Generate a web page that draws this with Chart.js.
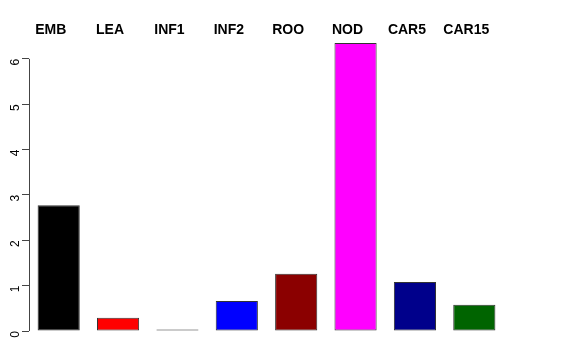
<!DOCTYPE html>
<html>
<head>
<meta charset="utf-8">
<script src="https://cdn.jsdelivr.net/npm/chart.js@4"></script>
<style>
  html, body { margin: 0; padding: 0; background: #fff; }
  #wrap { width: 576px; height: 360px; }
</style>
</head>
<body>
<div id="wrap"><canvas id="chart"></canvas></div>
<script>
const categories = ['EMB', 'LEA', 'INF1', 'INF2', 'ROO', 'NOD', 'CAR5', 'CAR15'];
const values = [2.77, 0.29, 0.01, 0.66, 1.26, 6.35, 1.08, 0.58];
const barColors = ['#000000', '#ff0000', '#4a584a', '#0000ff', '#8b0000', '#ff00ff', '#00008b', '#006400'];
const yTicks = [0, 1, 2, 3, 4, 5, 6];

// R-style axis line: only spans the first to last tick
const axisLine = {
    id: 'axisLine',
    afterDraw(chart) {
        const y = chart.scales.y;
        const ctx = chart.ctx;
        const x = Math.round(y.right) + 0.5;
        ctx.save();
        ctx.strokeStyle = '#444';
        ctx.lineWidth = 1;
        ctx.beginPath();
        ctx.moveTo(x, y.getPixelForValue(yTicks[0]));
        ctx.lineTo(x, y.getPixelForValue(yTicks[yTicks.length - 1]));
        ctx.stroke();
        ctx.restore();
    }
};

new Chart(document.getElementById('chart'), {
    type: 'bar',
    data: {
        labels: categories,
        datasets: [{
            data: values,
            backgroundColor: barColors,
            borderColor: '#333',
            borderWidth: 1,
            borderSkipped: false,
            minBarLength: 1.5,
            categoryPercentage: 1.0,
            barPercentage: 0.71
        }]
    },
    options: {
        responsive: true,
        maintainAspectRatio: false,
        animation: false,
        layout: {
            padding: { left: 0, right: 72, top: 0, bottom: 29 }
        },
        plugins: {
            legend: { display: false },
            tooltip: { enabled: false }
        },
        scales: {
            x: {
                position: 'top',
                grid: { display: false, drawTicks: false },
                border: { display: false },
                ticks: {
                    color: '#000',
                    padding: 4,
                    labelOffset: -8,
                    maxRotation: 0,
                    font: { family: 'Liberation Sans', size: 14, weight: 'bold' }
                },
                afterFit: function(scale) {
                    scale.height = 43;
                }
            },
            y: {
                min: 0,
                max: 6.35,
                grid: {
                    drawOnChartArea: false,
                    tickLength: 7,
                    tickColor: '#444'
                },
                border: { display: false },
                afterBuildTicks: function(scale) {
                    scale.ticks = yTicks.map(v => ({ value: v }));
                },
                ticks: {
                    color: '#000',
                    padding: 6,
                    minRotation: 90,
                    maxRotation: 90,
                    font: { family: 'Liberation Sans', size: 12 }
                },
                afterFit: function(scale) {
                    scale.width = 29;
                }
            }
        }
    },
    plugins: [axisLine]
});
</script>
</body>
</html>
